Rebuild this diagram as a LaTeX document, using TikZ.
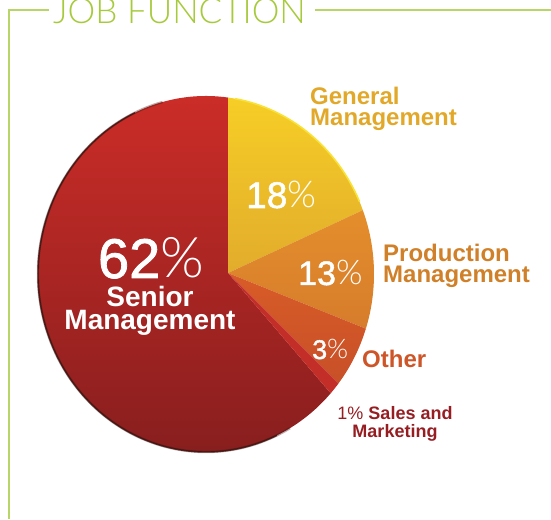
\documentclass[tikz,border=0pt]{standalone}
\usepackage{fontspec}
\setmainfont{Liberation Sans}
\newfontfamily\titlefont{Lato Light}
\newfontfamily\pctfont{Lato Light}
\newfontfamily\digitfont{Liberation Sans}[FakeBold=1.4]
\usetikzlibrary{calc}
\newcommand\myfs[2]{\fontsize{#1}{#2}\selectfont}
\newcommand\pct{{\pctfont\%}}
\definecolor{titlegreen}{RGB}{166,202,60}
\definecolor{framegreen}{RGB}{184,214,104}
\definecolor{gentext}{RGB}{226,168,41}
\definecolor{prodtext}{RGB}{208,128,40}
\definecolor{othertext}{RGB}{205,85,40}
\definecolor{salestext}{RGB}{150,30,35}
\definecolor{seniortop}{RGB}{205,45,40}
\definecolor{seniorbot}{RGB}{135,30,30}
\definecolor{gentop}{RGB}{246,206,38}
\definecolor{genbot}{RGB}{226,172,44}
\definecolor{prodtop}{RGB}{228,142,44}
\definecolor{prodbot}{RGB}{214,124,44}
\definecolor{othtop}{RGB}{216,92,40}
\definecolor{othbot}{RGB}{200,80,40}
\definecolor{salesfill}{RGB}{196,46,40}
\definecolor{rimdark}{RGB}{60,18,14}
\definecolor{rimlight}{RGB}{248,226,52}
\newcommand\pieslice[3]{%
  \path[#3] (A) -- ($(C)+(#1:168pt and 178pt)$)
    arc[start angle=#1, end angle=#2, x radius=168pt, y radius=178pt] -- cycle;}
\tikzset{
  frameline/.style={draw=framegreen, line width=1.6pt},
  whitepct/.style={text=white, inner sep=0pt, anchor=base west},
  lab/.style={inner sep=0pt, anchor=base west, align=left, font=\bfseries\myfs{24}{21}},
}
\begin{document}
\begin{tikzpicture}[x=1pt,y=1pt]
\useasboundingbox (0,0) rectangle (551,519);
\coordinate (C) at (206,245);
\coordinate (A) at (228,246);
% slices
\pieslice{82.47}{317.93}{shade, top color=seniortop, bottom color=seniorbot}
\pieslice{82.47}{21.02}{shade, top color=gentop, bottom color=genbot}
\pieslice{21.02}{-17.90}{shade, top color=prodtop, bottom color=prodbot}
\pieslice{-17.90}{-37.95}{shade, top color=othtop, bottom color=othbot}
\pieslice{-37.95}{-42.07}{fill=salesfill}
% rims
\draw[rimdark, line width=2.4pt, opacity=0.35] ($(C)+(105:168pt and 178pt)$)
  arc[start angle=105, end angle=300, x radius=168pt, y radius=178pt];
\draw[rimdark, line width=1.4pt, opacity=0.85] ($(C)+(115:168pt and 178pt)$)
  arc[start angle=115, end angle=295, x radius=168pt, y radius=178pt];
\draw[rimlight, line width=1.6pt] ($(C)+(80:168pt and 178pt)$)
  arc[start angle=80, end angle=24, x radius=168pt, y radius=178pt];
% title and frame
\node[anchor=base west, inner sep=0pt, text=titlegreen, font=\titlefont\myfs{35}{35}] (title) at (53,495) {JOB FUNCTION};
\coordinate (bl) at (9,0);
\coordinate (tl) at (9,509);
\coordinate (tr) at (551,509);
\draw[frameline] (bl) -- (tl) -- ([xshift=-4pt]title.west |- tl);
\draw[frameline] ([xshift=9pt]title.east |- tl) -- (tr);
% inner labels
\node[whitepct, font=\digitfont\myfs{37}{37}] (p18) at (246,311) {18\pct};
\node[whitepct, font=\digitfont\myfs{34}{34}] (p13) at (298,234) {13\pct};
\node[whitepct, font=\digitfont\myfs{27}{27}] (p3) at (312,160) {3\pct};
\node[text=white, inner sep=0pt, anchor=base, font=\digitfont\myfs{56}{56}] (p62) at (151,241) {62\pct};
\node[text=white, inner sep=0pt, anchor=base, align=center, font=\bfseries\myfs{28}{23}] (senior) at (150,189) {Senior\\Management};
% outer labels
\node[lab, text=gentext] (gen) at (310,393) {General\\Management};
\node[lab, text=prodtext] (prod) at (383,236) {Production\\Management};
\node[lab, text=othertext] (oth) at (362,151) {Other};
\node[inner sep=0pt, anchor=base, align=center, text=salestext, font=\myfs{18}{18}] (sales) at (395,81) {1\% \textbf{Sales and}\\\textbf{Marketing}};
\end{tikzpicture}
\end{document}
